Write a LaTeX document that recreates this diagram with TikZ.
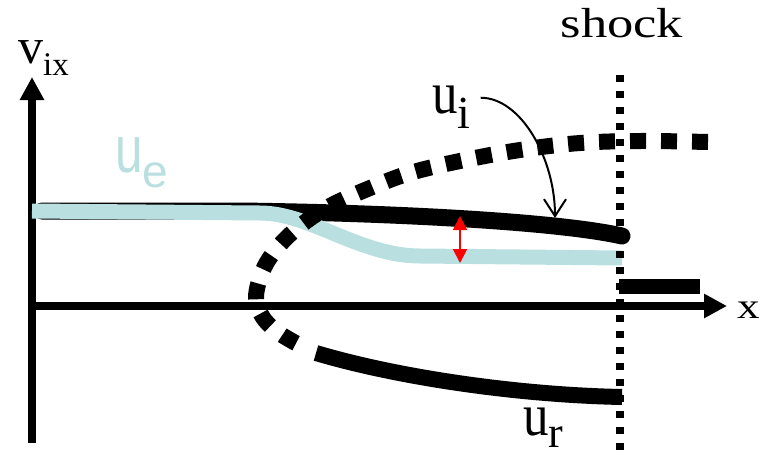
\documentclass[tikz,border=0pt]{standalone}
\usepackage{fontspec}
\setmainfont{Liberation Serif}
\newfontfamily\widerm[FakeStretch=1.25]{Liberation Serif}
\newfontfamily\sflab{Liberation Sans}
\usepackage{graphicx}
\usetikzlibrary{arrows.meta}
\definecolor{uecol}{HTML}{B9DFE1}
\newcommand{\fsz}[1]{\fontsize{#1}{#1}\selectfont}

\begin{document}
\begin{tikzpicture}[
        x=1pt, y=-1pt,
        axis/.style={line width=8pt, -{Triangle[length=23pt, width=23pt]}},
        lab/.style={inner sep=0pt, anchor=base west},
        ionline/.style={line width=17pt, line cap=round},
        elline/.style={line width=15pt, draw=uecol},
        dotcurve/.style={line width=16pt, dash pattern=on 16pt off 15pt},
        shockline/.style={line width=8pt, dash pattern=on 7pt off 9pt},
        gap/.style={red, line width=2pt, {Triangle[length=14pt, width=14pt]}-{Triangle[length=14pt, width=14pt]}},
        pointer/.style={line width=2pt, -{Straight Barb[length=17pt, width=22pt]}}
    ]
    \useasboundingbox (0,0) rectangle (768,458);

    % axes
    \draw[axis] (32,443) -- (32,77);
    \draw[axis] (32,306) -- (727,306);

    % ion and electron velocities
    \draw[ionline] (42,211) -- (240,211) .. controls (400,213) and (560,222) .. (622,236);
    \draw[elline] (32,211) -- (260,213) .. controls (310,213) and (360,256) .. (420,256) -- (622,258);

    % reflected ions
    \draw[dotcurve] plot[smooth, tension=0.6] coordinates {
        (708,142) (640,141) (580,143) (520,150) (460,161) (410,173) (370,188)
        (330,206) (300,226) (278,247) (263,270) (256,297) (262,316) (275,330)
        (292,341) (308,349)};
    \draw[line width=16pt] (316,353) .. controls (400,378) and (520,395) .. (622,397);
    \draw[line width=15pt] (619,286) -- (700,286);

    % shock front
    \draw[shockline] (620,75) -- (620,458);

    % labels
    \node[lab] (vix) at (18,63) {\fsz{50}v\raisebox{-12pt}{\fsz{33}ix}};
    \node[lab] (xlab) at (737,318) {\widerm\fsz{36}x};
    \node[inner sep=0pt, anchor=base] (shock) at (622,37) {\widerm\fsz{42}shock};
    \node[lab, text=uecol] (ue) at (115,172)
        {\sflab\scalebox{0.75}[1]{\fsz{66}u}\raisebox{-15pt}{\fsz{46}e}};
    \node[lab] (ui) at (432,113)
        {\scalebox{0.85}[1]{\fsz{60}u}\raisebox{-15pt}{\fsz{46}i}};
    \node[lab] (ur) at (523,435)
        {\scalebox{0.85}[1]{\fsz{60}u}\raisebox{-12pt}{\fsz{44}r}};

    \coordinate (gaptop) at (460,216);
    \coordinate (gapbot) at (460,263);
    \draw[gap] (gaptop) -- (gapbot);

    \coordinate (uitip) at (555,218);
    \draw[pointer] ([xshift=10pt, yshift=9pt]ui.east) .. controls +(40pt,0pt) and +(0pt,60pt) .. (uitip);
\end{tikzpicture}
\end{document}
